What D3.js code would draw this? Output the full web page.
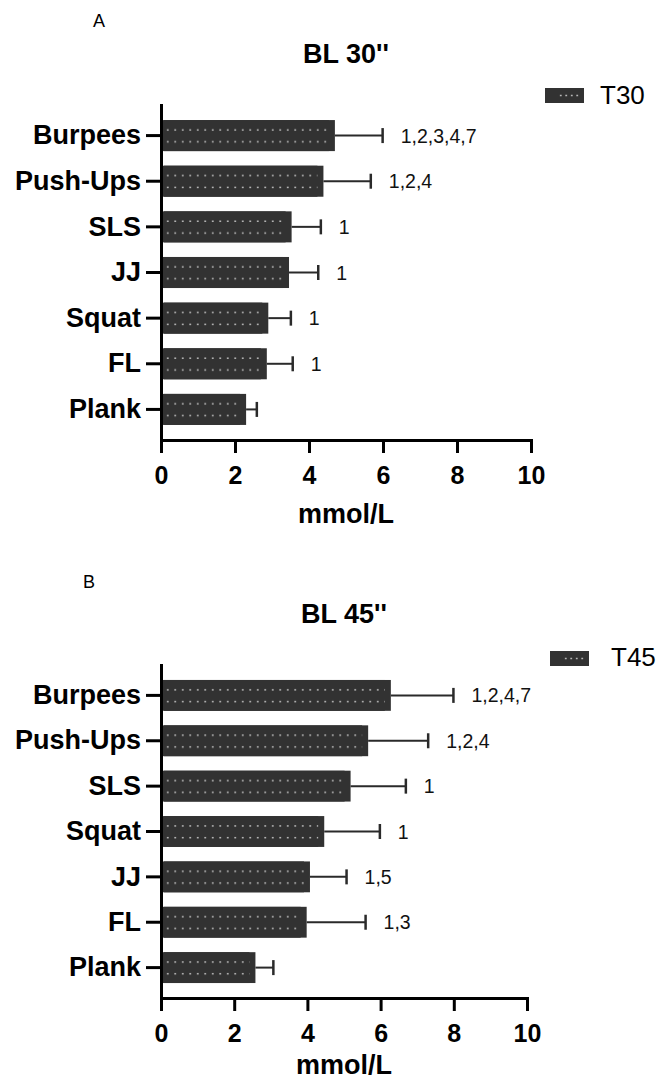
<!DOCTYPE html>
<html>
<head>
<meta charset="utf-8">
<script src="https://cdn.jsdelivr.net/npm/d3@7"></script>
<style>
  html, body { margin: 0; padding: 0; background: #fff; }
  svg { display: block; }
</style>
</head>
<body>
<div id="chart"></div>
<script>
// ---- data ----
const cats30 = ["Burpees", "Push-Ups", "SLS", "JJ", "Squat", "FL", "Plank"];
const mean30 = [4.70, 4.39, 3.53, 3.46, 2.90, 2.86, 2.30];
const sd30   = [1.29, 1.28, 0.79, 0.79, 0.61, 0.70, 0.29];
const sig30  = ["1,2,3,4,7", "1,2,4", "1", "1", "1", "1", ""];

const cats45 = ["Burpees", "Push-Ups", "SLS", "Squat", "JJ", "FL", "Plank"];
const mean45 = [6.28, 5.66, 5.18, 4.46, 4.07, 3.98, 2.58];
const sd45   = [1.71, 1.64, 1.51, 1.52, 1.00, 1.61, 0.49];
const sig45  = ["1,2,4,7", "1,2,4", "1", "1", "1,5", "1,3", ""];

const xTicks = [0, 2, 4, 6, 8, 10];
const panelLetters = ["A", "B"];
const panelTitles = ["BL 30''", "BL 45''"];
const seriesNames = ["T30", "T45"];
const axisTitle = "mmol/L";

// ---- layout ----
const W = 660, H = 1080;
const FONT = "Arial, 'Liberation Sans', Helvetica, sans-serif";
const BAR = "#323232";
const DOT = "#d4d4d4";

const panels = [
  { cats: cats30, mean: mean30, sd: sd30, sig: sig30, letter: panelLetters[0], title: panelTitles[0], name: seriesNames[0],
    xr: [161, 531], yr: [105, 440], letterPos: [93, 27], titleY: 63, axisTitleY: 523,
    legSw: [545, 88], legText: [600, 104] },
  { cats: cats45, mean: mean45, sd: sd45, sig: sig45, letter: panelLetters[1], title: panelTitles[1], name: seriesNames[1],
    xr: [161, 527], yr: [665, 998], letterPos: [83, 588], titleY: 623, axisTitleY: 1074,
    legSw: [550, 651], legText: [611, 666] }
];

const svg = d3.select("#chart").append("svg")
  .attr("width", W).attr("height", H)
  .attr("viewBox", `0 0 ${W} ${H}`)
  .style("font-family", FONT);
const defs = svg.append("defs");

panels.forEach((p, pi) => {
  const g = svg.append("g");
  const x = d3.scaleLinear().domain([0, 10]).range(p.xr);
  const y = d3.scaleBand().domain(p.cats).range(p.yr).paddingInner(0.32).paddingOuter(0.33);
  const bw = y.bandwidth();
  const rows = p.cats.map((c, i) => ({ c, m: p.mean[i], s: p.sd[i], lab: p.sig[i], i }));

  // panel letter
  g.append("text").attr("x", p.letterPos[0]).attr("y", p.letterPos[1])
    .attr("font-size", 18).attr("fill", "#000").style("font-family", FONT).text(p.letter);

  // title
  g.append("text").attr("x", (p.xr[0] + p.xr[1]) / 2).attr("y", p.titleY)
    .attr("text-anchor", "middle").attr("font-size", 27).attr("font-weight", "bold")
    .attr("fill", "#000").style("font-family", FONT).text(p.title);

  // bar patterns (per bar so dot rows align inside each bar)
  rows.forEach(d => {
    const pat = defs.append("pattern")
      .attr("id", `dots-${pi}-${d.i}`)
      .attr("patternUnits", "userSpaceOnUse")
      .attr("x", x(0) + 3).attr("y", y(d.c))
      .attr("width", 7.5).attr("height", bw);
    pat.append("rect").attr("width", 7.5).attr("height", bw).attr("fill", BAR);
    [0.32, 0.70].forEach(f => {
      pat.append("rect").attr("x", 3).attr("y", bw * f - 0.75)
        .attr("width", 1.5).attr("height", 1.5).attr("fill", DOT);
    });
  });

  // bars
  const bars = g.append("g");
  bars.selectAll("rect.bar").data(rows).join("rect").attr("class", "bar")
    .attr("x", x(0)).attr("y", d => y(d.c))
    .attr("width", d => x(d.m) - x(0)).attr("height", bw)
    .attr("fill", BAR);
  bars.selectAll("rect.dots").data(rows).join("rect").attr("class", "dots")
    .attr("x", x(0) + 3).attr("y", d => y(d.c))
    .attr("width", d => Math.max(0, x(d.m) - x(0) - 9)).attr("height", bw)
    .attr("fill", d => `url(#dots-${pi}-${d.i})`);

  // error bars
  const eb = g.append("g").attr("stroke", "#2a2a2a").attr("fill", "none");
  eb.selectAll("line.err").data(rows).join("line").attr("class", "err")
    .attr("x1", d => x(d.m)).attr("x2", d => x(d.m + d.s))
    .attr("y1", d => y(d.c) + bw / 2).attr("y2", d => y(d.c) + bw / 2)
    .attr("stroke-width", 2);
  eb.selectAll("line.cap").data(rows).join("line").attr("class", "cap")
    .attr("x1", d => x(d.m + d.s)).attr("x2", d => x(d.m + d.s))
    .attr("y1", d => y(d.c) + bw / 2 - 7.5).attr("y2", d => y(d.c) + bw / 2 + 7.5)
    .attr("stroke-width", 2.5);

  // significance labels
  g.append("g").selectAll("text").data(rows.filter(d => d.lab)).join("text")
    .attr("x", d => x(d.m + d.s) + 18).attr("y", d => y(d.c) + bw / 2)
    .attr("dy", "0.36em").attr("font-size", 19.5).attr("fill", "#111")
    .style("font-family", FONT)
    .text(d => d.lab);

  // x axis
  const xa = g.append("g").attr("transform", `translate(0,${p.yr[1]})`)
    .call(d3.axisBottom(x).tickValues(xTicks).tickFormat(d3.format("d"))
      .tickSize(13).tickSizeOuter(0).tickPadding(13));
  xa.select(".domain").attr("stroke", "#000").attr("stroke-width", 3).attr("stroke-linecap", "square");
  xa.selectAll(".tick line").attr("stroke", "#000").attr("stroke-width", 3);
  xa.selectAll(".tick text").attr("font-size", 25).attr("font-weight", "bold")
    .attr("fill", "#000").style("font-family", FONT);

  // y axis
  const ya = g.append("g").attr("transform", `translate(${p.xr[0]},0)`)
    .call(d3.axisLeft(y).tickSize(15).tickSizeOuter(0).tickPadding(5));
  ya.select(".domain").attr("stroke", "#000").attr("stroke-width", 3).attr("stroke-linecap", "square");
  ya.selectAll(".tick line").attr("stroke", "#000").attr("stroke-width", 3);
  ya.selectAll(".tick text").attr("font-size", 27).attr("font-weight", "bold")
    .attr("fill", "#000").style("font-family", FONT);

  // axis title
  g.append("text").attr("x", (p.xr[0] + p.xr[1]) / 2).attr("y", p.axisTitleY)
    .attr("text-anchor", "middle").attr("font-size", 27).attr("font-weight", "bold")
    .attr("fill", "#000").style("font-family", FONT).text(axisTitle);

  // legend
  const lg = g.append("g");
  const sw = 39, sh = 15;
  const lpat = defs.append("pattern").attr("id", `legdots-${pi}`)
    .attr("patternUnits", "userSpaceOnUse")
    .attr("x", p.legSw[0] + 13).attr("y", p.legSw[1])
    .attr("width", 5.5).attr("height", sh);
  lpat.append("rect").attr("width", 5.5).attr("height", sh).attr("fill", BAR);
  lpat.append("rect").attr("x", 2).attr("y", sh / 2 - 0.75).attr("width", 1.5).attr("height", 1.5).attr("fill", DOT);
  lg.append("rect").attr("x", p.legSw[0]).attr("y", p.legSw[1]).attr("width", sw).attr("height", sh).attr("fill", BAR);
  lg.append("rect").attr("x", p.legSw[0] + 13).attr("y", p.legSw[1]).attr("width", 22).attr("height", sh)
    .attr("fill", `url(#legdots-${pi})`);
  lg.append("text").attr("x", p.legText[0]).attr("y", p.legText[1])
    .attr("font-size", 26).attr("fill", "#000").style("font-family", FONT).text(p.name);
});
</script>
</body>
</html>
